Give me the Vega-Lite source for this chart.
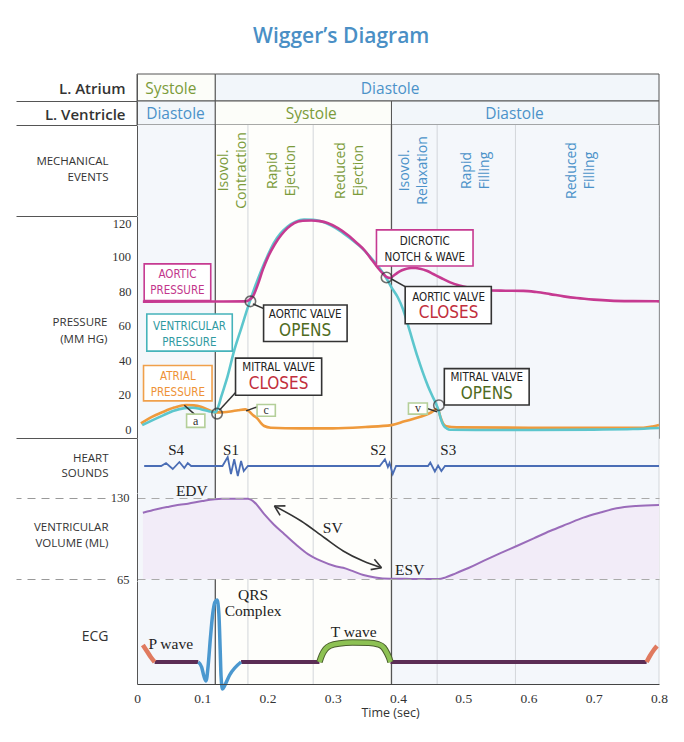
{
"$schema": "https://vega.github.io/schema/vega-lite/v6.json",
"background": "white",
"padding": {"left": 15, "top": 25, "right": 10, "bottom": 5},
"title": {"text": "Wigger’s Diagram", "font": "Open Sans", "fontSize": 21, "fontWeight": 600, "color": "#4a8fc5", "anchor": "middle", "offset": 27},
"spacing": 0,
"bounds": "flush",
"resolve": {"scale": {"x": "independent", "y": "independent"}},
"config": {"view": {"stroke": null}, "axis": {"labelFont": "Liberation Serif", "labelColor": "#333", "titleFont": "Open Sans", "titleColor": "#333", "titleFontWeight": "normal", "domainColor": "#555", "tickColor": "#555", "grid": false, "labelFlush": false, "labelOverlap": false}},
"datasets": {
"phases": [
{"row": "L. Atrium", "t": 0, "t2": 0.12, "tl": 0.052, "phase": "Systole"},
{"row": "L. Atrium", "t": 0.12, "t2": 0.8, "tl": 0.388, "phase": "Diastole"},
{"row": "L. Ventricle", "t": 0, "t2": 0.12, "tl": 0.059, "phase": "Diastole"},
{"row": "L. Ventricle", "t": 0.12, "t2": 0.39, "tl": 0.267, "phase": "Systole"},
{"row": "L. Ventricle", "t": 0.39, "t2": 0.8, "tl": 0.5785, "phase": "Diastole"}
],
"regions": [
{"t": 0, "t2": 0.12, "region": "pre"},
{"t": 0.12, "t2": 0.39, "region": "systole"},
{"t": 0.39, "t2": 0.8, "region": "diastole"}
],
"dividers": [
{"t": 0.12, "kind": "major"}, {"t": 0.17, "kind": "minor"}, {"t": 0.27, "kind": "minor"},
{"t": 0.39, "kind": "major"}, {"t": 0.46, "kind": "minor"}, {"t": 0.58, "kind": "minor"}, {"t": 0.8, "kind": "minor"}
],
"mech": [
{"label": "Isovol.|Contraction", "t": 0.147, "phase": "systole"},
{"label": "Rapid|Ejection", "t": 0.222, "phase": "systole"},
{"label": "Reduced|Ejection", "t": 0.326, "phase": "systole"},
{"label": "Isovol.|Relaxation", "t": 0.425, "phase": "diastole"},
{"label": "Rapid|Filling", "t": 0.52, "phase": "diastole"},
{"label": "Reduced|Filling", "t": 0.681, "phase": "diastole"}
],
"pticks": [
{"t": 0, "v": 20, "label": "20"}, {"t": 0, "v": 60, "label": "60"}, {"t": 0, "v": 100, "label": "100"}
],
"pressure": [
{"s": "aortic", "t": 0.009, "v": 74.2}, {"s": "aortic", "t": 0.12, "v": 74.3}, {"s": "aortic", "t": 0.166, "v": 74.4}, {"s": "aortic", "t": 0.172, "v": 75.2}, {"s": "aortic", "t": 0.178, "v": 77.5}, {"s": "aortic", "t": 0.185, "v": 84}, {"s": "aortic", "t": 0.193, "v": 93}, {"s": "aortic", "t": 0.2005, "v": 100}, {"s": "aortic", "t": 0.211, "v": 107.5}, {"s": "aortic", "t": 0.221, "v": 113}, {"s": "aortic", "t": 0.231, "v": 117.2}, {"s": "aortic", "t": 0.241, "v": 120}, {"s": "aortic", "t": 0.254, "v": 121.3}, {"s": "aortic", "t": 0.267, "v": 121.5}, {"s": "aortic", "t": 0.28, "v": 121.1}, {"s": "aortic", "t": 0.292, "v": 120}, {"s": "aortic", "t": 0.308, "v": 117}, {"s": "aortic", "t": 0.323, "v": 113}, {"s": "aortic", "t": 0.336, "v": 108.7}, {"s": "aortic", "t": 0.349, "v": 104}, {"s": "aortic", "t": 0.36, "v": 98.5}, {"s": "aortic", "t": 0.369, "v": 94}, {"s": "aortic", "t": 0.377, "v": 90.5}, {"s": "aortic", "t": 0.383, "v": 88.5}, {"s": "aortic", "t": 0.388, "v": 88}, {"s": "aortic", "t": 0.393, "v": 89.3}, {"s": "aortic", "t": 0.399, "v": 91}, {"s": "aortic", "t": 0.406, "v": 92.5}, {"s": "aortic", "t": 0.413, "v": 93.4}, {"s": "aortic", "t": 0.42, "v": 93.8}, {"s": "aortic", "t": 0.427, "v": 93.8}, {"s": "aortic", "t": 0.434, "v": 93.4}, {"s": "aortic", "t": 0.444, "v": 92.2}, {"s": "aortic", "t": 0.454, "v": 90.3}, {"s": "aortic", "t": 0.466, "v": 88}, {"s": "aortic", "t": 0.479, "v": 85.6}, {"s": "aortic", "t": 0.494, "v": 83.6}, {"s": "aortic", "t": 0.51, "v": 82.2}, {"s": "aortic", "t": 0.525, "v": 81.2}, {"s": "aortic", "t": 0.541, "v": 80.7}, {"s": "aortic", "t": 0.565, "v": 80.6}, {"s": "aortic", "t": 0.592, "v": 80.5}, {"s": "aortic", "t": 0.612, "v": 79.8}, {"s": "aortic", "t": 0.633, "v": 78.6}, {"s": "aortic", "t": 0.654, "v": 77.3}, {"s": "aortic", "t": 0.674, "v": 76.3}, {"s": "aortic", "t": 0.7, "v": 75.4}, {"s": "aortic", "t": 0.725, "v": 74.8}, {"s": "aortic", "t": 0.76, "v": 74.5}, {"s": "aortic", "t": 0.8, "v": 74.4},
{"s": "ventricular", "t": 0.008, "v": 2.3}, {"s": "ventricular", "t": 0.02, "v": 4.5}, {"s": "ventricular", "t": 0.04, "v": 8}, {"s": "ventricular", "t": 0.055, "v": 10.5}, {"s": "ventricular", "t": 0.073, "v": 12.2}, {"s": "ventricular", "t": 0.085, "v": 12.4}, {"s": "ventricular", "t": 0.098, "v": 11.6}, {"s": "ventricular", "t": 0.11, "v": 10.4}, {"s": "ventricular", "t": 0.118, "v": 9.8}, {"s": "ventricular", "t": 0.121, "v": 10}, {"s": "ventricular", "t": 0.125, "v": 13.5}, {"s": "ventricular", "t": 0.129, "v": 18.7}, {"s": "ventricular", "t": 0.139, "v": 31}, {"s": "ventricular", "t": 0.149, "v": 45.8}, {"s": "ventricular", "t": 0.16, "v": 59}, {"s": "ventricular", "t": 0.17, "v": 71}, {"s": "ventricular", "t": 0.18, "v": 82}, {"s": "ventricular", "t": 0.19, "v": 92}, {"s": "ventricular", "t": 0.2, "v": 100.8}, {"s": "ventricular", "t": 0.21, "v": 108.6}, {"s": "ventricular", "t": 0.22, "v": 114}, {"s": "ventricular", "t": 0.231, "v": 118}, {"s": "ventricular", "t": 0.243, "v": 120.8}, {"s": "ventricular", "t": 0.256, "v": 122}, {"s": "ventricular", "t": 0.27, "v": 121.9}, {"s": "ventricular", "t": 0.282, "v": 121}, {"s": "ventricular", "t": 0.297, "v": 118.6}, {"s": "ventricular", "t": 0.313, "v": 115}, {"s": "ventricular", "t": 0.328, "v": 110.7}, {"s": "ventricular", "t": 0.344, "v": 105.7}, {"s": "ventricular", "t": 0.357, "v": 100.5}, {"s": "ventricular", "t": 0.369, "v": 95}, {"s": "ventricular", "t": 0.382, "v": 88}, {"s": "ventricular", "t": 0.39, "v": 82.5}, {"s": "ventricular", "t": 0.4, "v": 76.5}, {"s": "ventricular", "t": 0.408, "v": 69.5}, {"s": "ventricular", "t": 0.415, "v": 61}, {"s": "ventricular", "t": 0.422, "v": 52}, {"s": "ventricular", "t": 0.43, "v": 42}, {"s": "ventricular", "t": 0.438, "v": 33}, {"s": "ventricular", "t": 0.446, "v": 25}, {"s": "ventricular", "t": 0.453, "v": 19}, {"s": "ventricular", "t": 0.458, "v": 15}, {"s": "ventricular", "t": 0.462, "v": 11}, {"s": "ventricular", "t": 0.466, "v": 5.5}, {"s": "ventricular", "t": 0.47, "v": 2}, {"s": "ventricular", "t": 0.475, "v": 0.3}, {"s": "ventricular", "t": 0.48, "v": -0.4}, {"s": "ventricular", "t": 0.52, "v": -0.5}, {"s": "ventricular", "t": 0.6, "v": -0.5}, {"s": "ventricular", "t": 0.7, "v": -0.3}, {"s": "ventricular", "t": 0.76, "v": 0}, {"s": "ventricular", "t": 0.8, "v": 0.6},
{"s": "atrial", "t": 0.006, "v": 3.3}, {"s": "atrial", "t": 0.02, "v": 6.5}, {"s": "atrial", "t": 0.04, "v": 10}, {"s": "atrial", "t": 0.057, "v": 12.5}, {"s": "atrial", "t": 0.075, "v": 14}, {"s": "atrial", "t": 0.087, "v": 13.8}, {"s": "atrial", "t": 0.098, "v": 13}, {"s": "atrial", "t": 0.11, "v": 11.2}, {"s": "atrial", "t": 0.121, "v": 9.7}, {"s": "atrial", "t": 0.132, "v": 9.8}, {"s": "atrial", "t": 0.143, "v": 10.2}, {"s": "atrial", "t": 0.155, "v": 11}, {"s": "atrial", "t": 0.166, "v": 11.5}, {"s": "atrial", "t": 0.172, "v": 10.2}, {"s": "atrial", "t": 0.178, "v": 8}, {"s": "atrial", "t": 0.185, "v": 6}, {"s": "atrial", "t": 0.19, "v": 3.5}, {"s": "atrial", "t": 0.195, "v": 1.8}, {"s": "atrial", "t": 0.205, "v": 0.8}, {"s": "atrial", "t": 0.25, "v": 0.4}, {"s": "atrial", "t": 0.3, "v": 0.4}, {"s": "atrial", "t": 0.35, "v": 1.2}, {"s": "atrial", "t": 0.39, "v": 2.3}, {"s": "atrial", "t": 0.41, "v": 4.5}, {"s": "atrial", "t": 0.433, "v": 7}, {"s": "atrial", "t": 0.45, "v": 9.5}, {"s": "atrial", "t": 0.461, "v": 12}, {"s": "atrial", "t": 0.465, "v": 7}, {"s": "atrial", "t": 0.469, "v": 3.3}, {"s": "atrial", "t": 0.474, "v": 1.6}, {"s": "atrial", "t": 0.49, "v": 1}, {"s": "atrial", "t": 0.6, "v": 0.8}, {"s": "atrial", "t": 0.776, "v": 0.8}, {"s": "atrial", "t": 0.79, "v": 1.5}, {"s": "atrial", "t": 0.8, "v": 2.4}
],
"pboxes": [
{"name": "aortic pressure", "t": 0.011, "t2": 0.113, "v": 74.8, "v2": 96.2, "kind": "aortic"},
{"name": "ventricular pressure", "t": 0.015, "t2": 0.146, "v": 45.4, "v2": 67, "kind": "ventricular"},
{"name": "atrial pressure", "t": 0.01, "t2": 0.115, "v": 16.4, "v2": 37, "kind": "atrial"},
{"name": "mitral closes", "t": 0.151, "t2": 0.283, "v": 19.7, "v2": 41.3, "kind": "event"},
{"name": "aortic opens", "t": 0.194, "t2": 0.322, "v": 51, "v2": 72.3, "kind": "event"},
{"name": "dicrotic", "t": 0.367, "t2": 0.515, "v": 95, "v2": 116, "kind": "aortic"},
{"name": "aortic closes", "t": 0.411, "t2": 0.543, "v": 61.3, "v2": 83, "kind": "event"},
{"name": "mitral opens", "t": 0.471, "t2": 0.601, "v": 14, "v2": 35.2, "kind": "event"},
{"name": "a", "t": 0.076, "t2": 0.104, "v": 1, "v2": 8.7, "kind": "wave"},
{"name": "c", "t": 0.184, "t2": 0.212, "v": 7.5, "v2": 14.3, "kind": "wave"},
{"name": "v", "t": 0.416, "t2": 0.445, "v": 8.7, "v2": 15.2, "kind": "wave"}
],
"plabels": [
{"label": "AORTIC|PRESSURE", "t": 0.062, "v": 84.8, "kind": "aortic"},
{"label": "VENTRICULAR|PRESSURE", "t": 0.0803, "v": 55, "kind": "ventricular"},
{"label": "ATRIAL|PRESSURE", "t": 0.0626, "v": 25.7, "kind": "atrial"},
{"label": "MITRAL VALVE", "t": 0.217, "v": 35.7, "kind": "event"},
{"label": "AORTIC VALVE", "t": 0.2577, "v": 66.7, "kind": "event"},
{"label": "DICROTIC|NOTCH & WAVE", "t": 0.441, "v": 104.4, "kind": "event"},
{"label": "AORTIC VALVE", "t": 0.4775, "v": 76.5, "kind": "event"},
{"label": "MITRAL VALVE", "t": 0.536, "v": 29.9, "kind": "event"}
],
"pbig": [
{"label": "CLOSES", "t": 0.217, "v": 26.1, "kind": "close"},
{"label": "OPENS", "t": 0.2577, "v": 57, "kind": "open"},
{"label": "CLOSES", "t": 0.4775, "v": 67.5, "kind": "close"},
{"label": "OPENS", "t": 0.536, "v": 20.3, "kind": "open"}
],
"pwaves": [
{"label": "a", "t": 0.09, "v": 4.8},
{"label": "c", "t": 0.198, "v": 10.9},
{"label": "v", "t": 0.4305, "v": 12}
],
"valves": [
{"event": "mitral closes", "t": 0.1227, "v": 9},
{"event": "aortic opens", "t": 0.1738, "v": 74.4},
{"event": "aortic closes", "t": 0.3824, "v": 88.3},
{"event": "mitral opens", "t": 0.4627, "v": 13.9}
],
"connectors": [
{"t": 0.1262, "v": 11, "t2": 0.1518, "v2": 21.6},
{"t": 0.1775, "v": 72.9, "t2": 0.1952, "v2": 70},
{"t": 0.39, "v": 87.4, "t2": 0.413, "v2": 82.5},
{"t": 0.0725, "v": 13.9, "t2": 0.088, "v2": 8.7},
{"t": 0.1672, "v": 10.6, "t2": 0.184, "v2": 12.9},
{"t": 0.4448, "v": 12, "t2": 0.46, "v2": 10}
],
"hs": [
{"t": 0.011, "v": 0}, {"t": 0.037, "v": 0}, {"t": 0.0445, "v": 3}, {"t": 0.0548, "v": -3}, {"t": 0.065, "v": 4}, {"t": 0.0725, "v": -2}, {"t": 0.0778, "v": 3}, {"t": 0.083, "v": 0},
{"t": 0.131, "v": 0}, {"t": 0.139, "v": 9}, {"t": 0.144, "v": -8}, {"t": 0.149, "v": 6.7}, {"t": 0.1545, "v": -10}, {"t": 0.1595, "v": 5}, {"t": 0.1636, "v": -5}, {"t": 0.17, "v": 0},
{"t": 0.372, "v": 0}, {"t": 0.38, "v": 6.7}, {"t": 0.3845, "v": -1}, {"t": 0.387, "v": 3}, {"t": 0.392, "v": -8}, {"t": 0.397, "v": 0},
{"t": 0.446, "v": 0}, {"t": 0.4495, "v": 3.5}, {"t": 0.4565, "v": -5.5}, {"t": 0.4615, "v": 0.5}, {"t": 0.4665, "v": -5}, {"t": 0.472, "v": 0}, {"t": 0.8, "v": 0}
],
"hslabels": [
{"label": "S4", "t": 0.06, "v": 16.3}, {"label": "S1", "t": 0.144, "v": 16.3}, {"label": "S2", "t": 0.3696, "v": 16.3}, {"label": "S3", "t": 0.477, "v": 16.3}
],
"vol": [
{"t": 0.009, "v": 118.2}, {"t": 0.03, "v": 121}, {"t": 0.047, "v": 122.8}, {"t": 0.065, "v": 124.5}, {"t": 0.078, "v": 125.4}, {"t": 0.1, "v": 127.5}, {"t": 0.119, "v": 128.9}, {"t": 0.13, "v": 129.3}, {"t": 0.145, "v": 129.4}, {"t": 0.17, "v": 129.3}, {"t": 0.18, "v": 126.5}, {"t": 0.195, "v": 117}, {"t": 0.21, "v": 108.5}, {"t": 0.226, "v": 101}, {"t": 0.244, "v": 92.5}, {"t": 0.262, "v": 85}, {"t": 0.282, "v": 79.5}, {"t": 0.303, "v": 75.4}, {"t": 0.316, "v": 74}, {"t": 0.33, "v": 71.5}, {"t": 0.347, "v": 68.2}, {"t": 0.365, "v": 66.2}, {"t": 0.388, "v": 65.2}, {"t": 0.42, "v": 65.1}, {"t": 0.462, "v": 65}, {"t": 0.473, "v": 66.3}, {"t": 0.485, "v": 68.8}, {"t": 0.508, "v": 73.8}, {"t": 0.531, "v": 79.5}, {"t": 0.557, "v": 85.7}, {"t": 0.582, "v": 91.5}, {"t": 0.608, "v": 97.6}, {"t": 0.633, "v": 103.5}, {"t": 0.66, "v": 109.2}, {"t": 0.684, "v": 114.2}, {"t": 0.71, "v": 118.3}, {"t": 0.735, "v": 121.7}, {"t": 0.765, "v": 123.6}, {"t": 0.8, "v": 124.4}
],
"svarrow": [
{"t": 0.2106, "v": 123.6}, {"t": 0.2515, "v": 111.5}, {"t": 0.2873, "v": 98.1}, {"t": 0.316, "v": 87.5}, {"t": 0.3466, "v": 79.4}, {"t": 0.3747, "v": 74.1}
],
"svheads": [
{"t": 0.2106, "v": 123.6, "t2": 0.2193, "v2": 116}, {"t": 0.2106, "v": 123.6, "t2": 0.2275, "v2": 123.7},
{"t": 0.3747, "v": 74.1, "t2": 0.3638, "v2": 80.9}, {"t": 0.3747, "v": 74.1, "t2": 0.3581, "v2": 72.5}
],
"vlabels": [
{"label": "EDV", "t": 0.084, "v": 135.6}, {"label": "ESV", "t": 0.418, "v": 72.2}, {"label": "SV", "t": 0.3, "v": 106.2}
],
"ecg": [
{"part": "p1", "t": 0.009, "v": 0.85}, {"part": "p1", "t": 0.015, "v": 0.55}, {"part": "p1", "t": 0.021, "v": 0.25}, {"part": "p1", "t": 0.027, "v": 0},
{"part": "b1", "t": 0.027, "v": 0}, {"part": "b1", "t": 0.094, "v": 0},
{"part": "qrs", "t": 0.094, "v": 0}, {"part": "qrs", "t": 0.099, "v": -0.25}, {"part": "qrs", "t": 0.1025, "v": -0.7}, {"part": "qrs", "t": 0.1058, "v": -0.95}, {"part": "qrs", "t": 0.109, "v": -0.2}, {"part": "qrs", "t": 0.1125, "v": 1.2}, {"part": "qrs", "t": 0.116, "v": 2.4}, {"part": "qrs", "t": 0.1195, "v": 3.0}, {"part": "qrs", "t": 0.1227, "v": 3.1}, {"part": "qrs", "t": 0.1255, "v": 2.4}, {"part": "qrs", "t": 0.1275, "v": 0.6}, {"part": "qrs", "t": 0.1288, "v": -0.7}, {"part": "qrs", "t": 0.131, "v": -1.35}, {"part": "qrs", "t": 0.134, "v": -1.2}, {"part": "qrs", "t": 0.142, "v": -0.65}, {"part": "qrs", "t": 0.1595, "v": 0},
{"part": "b2", "t": 0.1595, "v": 0}, {"part": "b2", "t": 0.2796, "v": 0},
{"part": "tw", "t": 0.2796, "v": 0}, {"part": "tw", "t": 0.2835, "v": 0.35}, {"part": "tw", "t": 0.289, "v": 0.65}, {"part": "tw", "t": 0.296, "v": 0.82}, {"part": "tw", "t": 0.31, "v": 0.93}, {"part": "tw", "t": 0.33, "v": 0.97}, {"part": "tw", "t": 0.355, "v": 0.96}, {"part": "tw", "t": 0.37, "v": 0.88}, {"part": "tw", "t": 0.378, "v": 0.72}, {"part": "tw", "t": 0.383, "v": 0.45}, {"part": "tw", "t": 0.3865, "v": 0.2}, {"part": "tw", "t": 0.3885, "v": 0},
{"part": "b3", "t": 0.3885, "v": 0}, {"part": "b3", "t": 0.781, "v": 0},
{"part": "p2", "t": 0.781, "v": 0}, {"part": "p2", "t": 0.786, "v": 0.3}, {"part": "p2", "t": 0.792, "v": 0.6}, {"part": "p2", "t": 0.797, "v": 0.8}
],
"ecglabels": [
{"label": "P wave", "t": 0.0517, "v": 0.9}, {"label": "QRS|Complex", "t": 0.178, "v": 3.35}, {"label": "T wave", "t": 0.332, "v": 1.5}
]
},
"vconcat": [
{
"width": 522, "height": 27,
"encoding": {"x": {"field": "t", "type": "quantitative", "scale": {"domain": [0, 0.8], "nice": false, "zero": false}, "axis": null}},
"layer": [
{"data": {"name": "phases"}, "transform": [{"filter": "datum.row === 'L. Atrium'"}], "mark": {"type": "rect", "stroke": "#555", "strokeWidth": 1},
 "encoding": {"x2": {"field": "t2"}, "fill": {"condition": {"test": "datum.phase === 'Systole'", "value": "#fcfdf9"}, "value": "#f2f6fa"}}},
{"data": {"name": "phases"}, "transform": [{"filter": "datum.row === 'L. Atrium'"}], "mark": {"type": "text", "font": "Open Sans", "fontSize": 15.5, "baseline": "middle", "dy": 1.5},
 "encoding": {"x": {"field": "tl", "type": "quantitative", "scale": {"domain": [0, 0.8], "nice": false, "zero": false}, "axis": null},
  "y": {"datum": 0.5, "type": "quantitative", "scale": {"domain": [0, 1]}, "axis": {"values": [0], "ticks": true, "tickSize": 121, "tickColor": "#555", "labels": false, "domain": true, "zindex": 1, "title": "L. Atrium", "titleAngle": 0, "titleAlign": "right", "titleBaseline": "middle", "titleX": -12, "titleY": 14.5, "titleFont": "Open Sans", "titleFontWeight": 600, "titleFontSize": 15}},
  "text": {"field": "phase"},
  "color": {"condition": {"test": "datum.phase === 'Systole'", "value": "#7b9b3a"}, "value": "#4b92c9"}}}
]
},
{
"width": 522, "height": 24,
"encoding": {"x": {"field": "t", "type": "quantitative", "scale": {"domain": [0, 0.8], "nice": false, "zero": false}, "axis": null}},
"layer": [
{"data": {"name": "phases"}, "transform": [{"filter": "datum.row === 'L. Ventricle'"}], "mark": {"type": "rect", "stroke": "#555", "strokeWidth": 1},
 "encoding": {"x2": {"field": "t2"}, "fill": {"condition": {"test": "datum.phase === 'Systole'", "value": "#fcfdf9"}, "value": "#f2f6fa"}}},
{"data": {"name": "phases"}, "transform": [{"filter": "datum.row === 'L. Ventricle'"}], "mark": {"type": "text", "font": "Open Sans", "fontSize": 15.5, "baseline": "middle", "dy": 1},
 "encoding": {"x": {"field": "tl", "type": "quantitative", "scale": {"domain": [0, 0.8], "nice": false, "zero": false}, "axis": null},
  "y": {"datum": 0.5, "type": "quantitative", "scale": {"domain": [0, 1]}, "axis": {"values": [0], "ticks": true, "tickSize": 121, "tickColor": "#555", "labels": false, "domain": true, "zindex": 1, "title": "L. Ventricle", "titleAngle": 0, "titleAlign": "right", "titleBaseline": "middle", "titleX": -12, "titleY": 13, "titleFont": "Open Sans", "titleFontWeight": 600, "titleFontSize": 15}},
  "text": {"field": "phase"},
  "color": {"condition": {"test": "datum.phase === 'Systole'", "value": "#7b9b3a"}, "value": "#4b92c9"}}}
]
},
{
"width": 522, "height": 91,
"view": {"stroke": "#555"},
"encoding": {"x": {"field": "t", "type": "quantitative", "scale": {"domain": [0, 0.8], "nice": false, "zero": false}, "axis": null}},
"layer": [
{"data": {"name": "regions"}, "mark": {"type": "rect"}, "encoding": {"x2": {"field": "t2"}, "fill": {"condition": {"test": "datum.region === 'systole'", "value": "#fefefb"}, "value": "#f4f7fb"}}},
{"data": {"name": "dividers"}, "mark": {"type": "rule"}, "encoding": {"stroke": {"condition": {"test": "datum.kind === 'major'", "value": "#555"}, "value": "#d3d6da"}, "strokeWidth": {"condition": {"test": "datum.kind === 'major'", "value": 1.3}, "value": 1}}},
{"data": {"name": "mech"}, "mark": {"type": "text", "font": "Open Sans", "fontSize": 14, "angle": 270, "lineBreak": "|", "lineHeight": 18, "align": "center", "baseline": "middle", "dy": -9},
 "encoding": {"y": {"datum": 0.5, "type": "quantitative", "scale": {"domain": [0, 1]}, "axis": {"values": [0], "ticks": true, "tickSize": 121, "tickColor": "#555", "labels": false, "domain": true, "zindex": 1, "title": ["MECHANICAL", "EVENTS"], "titleAngle": 0, "titleAlign": "right", "titleBaseline": "middle", "titleX": -29, "titleY": 36, "titleFontSize": 11.5, "titleLineHeight": 16}},
  "text": {"field": "label"},
  "color": {"condition": {"test": "datum.phase === 'systole'", "value": "#7b9b3a"}, "value": "#4b92c9"}}}
]
},
{
"width": 522, "height": 222,
"view": {"stroke": "#555"},
"encoding": {"x": {"field": "t", "type": "quantitative", "scale": {"domain": [0, 0.8], "nice": false, "zero": false}, "axis": null}},
"layer": [
{"data": {"name": "regions"}, "mark": {"type": "rect"}, "encoding": {"x2": {"field": "t2"}, "fill": {"condition": {"test": "datum.region === 'systole'", "value": "#fefefb"}, "value": "#f4f7fb"}}},
{"data": {"name": "dividers"}, "mark": {"type": "rule"}, "encoding": {"stroke": {"condition": {"test": "datum.kind === 'major'", "value": "#555"}, "value": "#d3d6da"}, "strokeWidth": {"condition": {"test": "datum.kind === 'major'", "value": 1.3}, "value": 1}}},
{"data": {"name": "pressure"}, "transform": [{"filter": "datum.s === 'atrial'"}], "mark": {"type": "line", "color": "#ef9a3c", "strokeWidth": 2.6, "interpolate": "monotone"},
 "encoding": {"y": {"field": "v", "type": "quantitative", "scale": {"domain": [-5.2, 124.1], "nice": false, "zero": false},
  "axis": {"values": [0, 20, 40, 60, 80, 100, 120], "labelOverlap": false, "ticks": false, "tickSize": 0, "labelPadding": 6, "labelFontSize": 12.5, "domain": true, "zindex": 1, "title": ["PRESSURE", "(MM HG)"], "titleAngle": 0, "titleAlign": "right", "titleBaseline": "middle", "titleX": -30, "titleY": 106.5, "titleFontSize": 11.5, "titleLineHeight": 17}}}},
{"data": {"name": "pticks"}, "mark": {"type": "text", "font": "Liberation Serif", "fontSize": 12.5, "align": "right", "baseline": "middle", "color": "#333", "dx": -6},
 "encoding": {"y": {"field": "v", "type": "quantitative", "scale": {"domain": [-5.2, 124.1], "nice": false, "zero": false}}, "text": {"field": "label"}}},
{"data": {"name": "pressure"}, "transform": [{"filter": "datum.s === 'ventricular'"}], "mark": {"type": "line", "color": "#5cc6cd", "strokeWidth": 2.6, "interpolate": "monotone"},
 "encoding": {"y": {"field": "v", "type": "quantitative", "scale": {"domain": [-5.2, 124.1], "nice": false, "zero": false}}}},
{"data": {"name": "pressure"}, "transform": [{"filter": "datum.s === 'aortic'"}], "mark": {"type": "line", "color": "#c63a91", "strokeWidth": 2.6, "interpolate": "monotone"},
 "encoding": {"y": {"field": "v", "type": "quantitative", "scale": {"domain": [-5.2, 124.1], "nice": false, "zero": false}}}},
{"data": {"name": "connectors"}, "mark": {"type": "rule", "color": "#333", "strokeWidth": 1.5},
 "encoding": {"x2": {"field": "t2"}, "y": {"field": "v", "type": "quantitative", "scale": {"domain": [-5.2, 124.1], "nice": false, "zero": false}}, "y2": {"field": "v2"}}},
{"data": {"name": "valves"}, "mark": {"type": "point", "shape": "circle", "filled": false, "size": 110, "color": "#333", "strokeWidth": 1.6},
 "encoding": {"y": {"field": "v", "type": "quantitative", "scale": {"domain": [-5.2, 124.1], "nice": false, "zero": false}}}},
{"data": {"name": "pboxes"}, "mark": {"type": "rect", "fill": "white", "strokeWidth": 1.6},
 "encoding": {"x2": {"field": "t2"}, "y": {"field": "v", "type": "quantitative", "scale": {"domain": [-5.2, 124.1], "nice": false, "zero": false}}, "y2": {"field": "v2"},
  "stroke": {"condition": [{"test": "datum.kind === 'aortic'", "value": "#c63a91"}, {"test": "datum.kind === 'ventricular'", "value": "#45b3ba"}, {"test": "datum.kind === 'atrial'", "value": "#f0a04b"}, {"test": "datum.kind === 'wave'", "value": "#b4cf99"}], "value": "#333"}}},
{"data": {"name": "plabels"}, "transform": [{"filter": "indexof(datum.label, '|') >= 0"}], "mark": {"type": "text", "font": "DejaVu Sans Condensed, Liberation Sans Narrow, Liberation Sans", "fontSize": 11.5, "lineBreak": "|", "lineHeight": 16, "align": "center", "baseline": "middle", "dy": -8},
 "encoding": {"y": {"field": "v", "type": "quantitative", "scale": {"domain": [-5.2, 124.1], "nice": false, "zero": false}}, "text": {"field": "label"},
  "color": {"condition": [{"test": "datum.kind === 'aortic'", "value": "#c2358b"}, {"test": "datum.kind === 'ventricular'", "value": "#2f9aa1"}, {"test": "datum.kind === 'atrial'", "value": "#ee9236"}], "value": "#222"}}},
{"data": {"name": "plabels"}, "transform": [{"filter": "indexof(datum.label, '|') < 0"}], "mark": {"type": "text", "font": "DejaVu Sans Condensed, Liberation Sans Narrow, Liberation Sans", "fontSize": 11.5, "align": "center", "baseline": "middle"},
 "encoding": {"y": {"field": "v", "type": "quantitative", "scale": {"domain": [-5.2, 124.1], "nice": false, "zero": false}}, "text": {"field": "label"}, "color": {"value": "#222"}}},
{"data": {"name": "pbig"}, "mark": {"type": "text", "font": "DejaVu Sans Condensed, Liberation Sans Narrow, Liberation Sans", "fontSize": 17, "align": "center", "baseline": "middle"},
 "encoding": {"y": {"field": "v", "type": "quantitative", "scale": {"domain": [-5.2, 124.1], "nice": false, "zero": false}}, "text": {"field": "label"},
  "color": {"condition": {"test": "datum.kind === 'close'", "value": "#c22f3d"}, "value": "#4f6b22"}}},
{"data": {"name": "pwaves"}, "mark": {"type": "text", "font": "Liberation Serif", "fontSize": 12, "align": "center", "baseline": "middle", "color": "#333"},
 "encoding": {"y": {"field": "v", "type": "quantitative", "scale": {"domain": [-5.2, 124.1], "nice": false, "zero": false}}, "text": {"field": "label"}}}
]
},
{
"width": 522, "height": 55,
"encoding": {"x": {"field": "t", "type": "quantitative", "scale": {"domain": [0, 0.8], "nice": false, "zero": false}, "axis": null}},
"layer": [
{"data": {"name": "regions"}, "mark": {"type": "rect"}, "encoding": {"x2": {"field": "t2"}, "fill": {"condition": {"test": "datum.region === 'systole'", "value": "#fefefb"}, "value": "#f4f7fb"}}},
{"data": {"name": "dividers"}, "mark": {"type": "rule"}, "encoding": {"stroke": {"condition": {"test": "datum.kind === 'major'", "value": "#555"}, "value": "#d3d6da"}, "strokeWidth": {"condition": {"test": "datum.kind === 'major'", "value": 1.3}, "value": 1}}},
{"data": {"name": "hs"}, "mark": {"type": "line", "color": "#4a6db5", "strokeWidth": 1.8},
 "encoding": {"y": {"field": "v", "type": "quantitative", "scale": {"domain": [-27, 28], "nice": false, "zero": false},
  "axis": {"values": [28], "ticks": true, "tickSize": 121, "tickColor": "#555", "labels": false, "domain": true, "zindex": 1, "title": ["HEART", "SOUNDS"], "titleAngle": 0, "titleAlign": "right", "titleBaseline": "middle", "titleX": -29, "titleY": 20.5, "titleFontSize": 11.5, "titleLineHeight": 15}}}},
{"data": {"name": "hslabels"}, "mark": {"type": "text", "font": "Liberation Serif", "fontSize": 15, "align": "center", "baseline": "middle", "color": "#222"},
 "encoding": {"y": {"field": "v", "type": "quantitative", "scale": {"domain": [-27, 28], "nice": false, "zero": false}}, "text": {"field": "label"}}}
]
},
{
"width": 522, "height": 88,
"encoding": {"x": {"field": "t", "type": "quantitative", "scale": {"domain": [0, 0.8], "nice": false, "zero": false}, "axis": null}},
"layer": [
{"data": {"name": "regions"}, "mark": {"type": "rect"}, "encoding": {"x2": {"field": "t2"}, "fill": {"condition": {"test": "datum.region === 'systole'", "value": "#fefefb"}, "value": "#f4f7fb"}}},
{"data": {"name": "dividers"}, "mark": {"type": "rule"}, "encoding": {"stroke": {"condition": {"test": "datum.kind === 'major'", "value": "#555"}, "value": "#d3d6da"}, "strokeWidth": {"condition": {"test": "datum.kind === 'major'", "value": 1.3}, "value": 1}}},
{"data": {"name": "vol"}, "mark": {"type": "area", "color": "#f2ecf8", "interpolate": "monotone"},
 "encoding": {"y": {"field": "v", "type": "quantitative", "scale": {"domain": [63.4, 134], "nice": false, "zero": false},
  "axis": {"values": [65, 130], "ticks": true, "tickSize": 121, "tickColor": "#999", "tickDash": [0, 32, 8, 6, 8, 6, 8, 6, 8, 6, 8, 6, 8, 6, 8, 6], "grid": true, "gridDash": [8, 6], "gridColor": "#aaa", "labelPadding": -113, "labelFontSize": 12.5, "domain": true, "zindex": 1, "title": ["VENTRICULAR", "VOLUME (ML)"], "titleAngle": 0, "titleAlign": "right", "titleBaseline": "middle", "titleX": -29, "titleY": 34, "titleFontSize": 11.5, "titleLineHeight": 16}},
  "y2": {"datum": 65}}},
{"data": {"name": "vol"}, "mark": {"type": "line", "color": "#9a6cba", "strokeWidth": 2, "interpolate": "monotone"},
 "encoding": {"y": {"field": "v", "type": "quantitative", "scale": {"domain": [63.4, 134], "nice": false, "zero": false}}}},
{"data": {"name": "svarrow"}, "mark": {"type": "line", "color": "#333", "strokeWidth": 1.6, "interpolate": "monotone"},
 "encoding": {"y": {"field": "v", "type": "quantitative", "scale": {"domain": [63.4, 134], "nice": false, "zero": false}}}},
{"data": {"name": "svheads"}, "mark": {"type": "rule", "color": "#333", "strokeWidth": 1.6},
 "encoding": {"x2": {"field": "t2"}, "y": {"field": "v", "type": "quantitative", "scale": {"domain": [63.4, 134], "nice": false, "zero": false}}, "y2": {"field": "v2"}}},
{"data": {"name": "vlabels"}, "mark": {"type": "text", "font": "Liberation Serif", "fontSize": 15.5, "align": "center", "baseline": "middle", "color": "#222"},
 "encoding": {"y": {"field": "v", "type": "quantitative", "scale": {"domain": [63.4, 134], "nice": false, "zero": false}}, "text": {"field": "label"}}}
]
},
{
"width": 522, "height": 103,
"encoding": {"x": {"field": "t", "type": "quantitative", "scale": {"domain": [0, 0.8], "nice": false, "zero": false},
 "axis": {"values": [0, 0.1, 0.2, 0.3, 0.4, 0.5, 0.6, 0.7, 0.8], "format": ".1~f", "ticks": false, "labelPadding": 7, "labelFontSize": 13.5, "domain": true, "domainColor": "#444", "zindex": 1, "title": "Time (sec)", "titleFontSize": 12.5, "titlePadding": 2, "titleX": 253}}},
"layer": [
{"data": {"name": "regions"}, "mark": {"type": "rect"}, "encoding": {"x2": {"field": "t2"}, "fill": {"condition": {"test": "datum.region === 'systole'", "value": "#fefefb"}, "value": "#f4f7fb"}}},
{"data": {"name": "dividers"}, "mark": {"type": "rule"}, "encoding": {"stroke": {"condition": {"test": "datum.kind === 'major'", "value": "#555"}, "value": "#d3d6da"}, "strokeWidth": {"condition": {"test": "datum.kind === 'major'", "value": 1.3}, "value": 1}}},
{"data": {"name": "ecg"}, "transform": [{"filter": "indexof(['b1','b2','b3'], datum.part) >= 0"}], "mark": {"type": "line", "color": "#5b2d55", "strokeWidth": 4},
 "encoding": {"detail": {"field": "part"}, "y": {"field": "v", "type": "quantitative", "scale": {"domain": [-1.1, 4.05], "nice": false, "zero": false},
  "axis": {"ticks": false, "labels": false, "domain": true, "zindex": 1, "title": "ECG", "titleAngle": 0, "titleAlign": "right", "titleBaseline": "middle", "titleX": -29, "titleY": 55, "titleFontSize": 14}}}},
{"data": {"name": "ecg"}, "transform": [{"filter": "datum.part === 'qrs'"}], "mark": {"type": "line", "color": "#4b98cf", "strokeWidth": 3.5, "interpolate": "monotone"},
 "encoding": {"y": {"field": "v", "type": "quantitative", "scale": {"domain": [-1.1, 4.05], "nice": false, "zero": false}}}},
{"data": {"name": "ecg"}, "transform": [{"filter": "datum.part === 'tw'"}], "mark": {"type": "line", "color": "#4a5d2e", "strokeWidth": 6.5, "interpolate": "monotone"},
 "encoding": {"y": {"field": "v", "type": "quantitative", "scale": {"domain": [-1.1, 4.05], "nice": false, "zero": false}}}},
{"data": {"name": "ecg"}, "transform": [{"filter": "datum.part === 'tw'"}], "mark": {"type": "line", "color": "#8dc153", "strokeWidth": 4.5, "interpolate": "monotone"},
 "encoding": {"y": {"field": "v", "type": "quantitative", "scale": {"domain": [-1.1, 4.05], "nice": false, "zero": false}}}},
{"data": {"name": "ecg"}, "transform": [{"filter": "datum.part === 'p1' || datum.part === 'p2'"}], "mark": {"type": "line", "color": "#e07a5f", "strokeWidth": 4.5, "interpolate": "monotone"},
 "encoding": {"detail": {"field": "part"}, "y": {"field": "v", "type": "quantitative", "scale": {"domain": [-1.1, 4.05], "nice": false, "zero": false}}}},
{"data": {"name": "ecglabels"}, "mark": {"type": "text", "font": "Liberation Serif", "fontSize": 15.5, "align": "center", "baseline": "middle", "lineBreak": "|", "lineHeight": 16, "color": "#222"},
 "encoding": {"y": {"field": "v", "type": "quantitative", "scale": {"domain": [-1.1, 4.05], "nice": false, "zero": false}}, "text": {"field": "label"}}}
]
}
]
}
